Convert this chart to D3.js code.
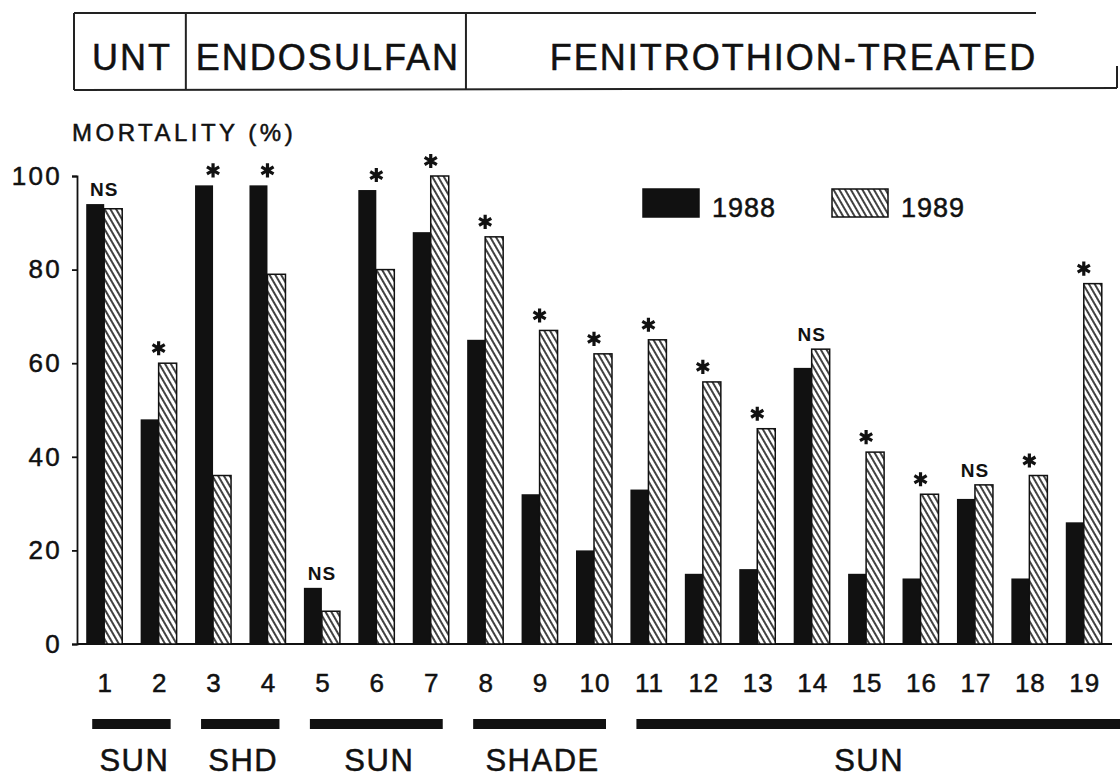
<!DOCTYPE html>
<html>
<head>
<meta charset="utf-8">
<script src="https://cdn.jsdelivr.net/npm/d3@7"></script>
<style>
  body { margin: 0; background: #fff; }
  text { font-family: "Liberation Sans", Arial, sans-serif; fill: #111; stroke: #111; stroke-width: 0.5px; }
</style>
</head>
<body>
<div id="chart"></div>
<script>
var sites = ["1", "2", "3", "4", "5", "6", "7", "8", "9", "10", "11", "12", "13", "14", "15", "16", "17", "18", "19"]
var mort1988 = [94, 48, 98, 98, 12, 97, 88, 65, 32, 20, 33, 15, 16, 59, 15, 14, 31, 14, 26]
var mort1989 = [93, 60, 36, 79, 7, 80, 100, 87, 67, 62, 65, 56, 46, 63, 41, 32, 34, 36, 77]
var signif = ["NS", "*", "*", "*", "NS", "*", "*", "*", "*", "*", "*", "*", "*", "NS", "*", "*", "NS", "*", "*"]
var yTicks = [0, 20, 40, 60, 80, 100]
var years = ["1988", "1989"]

var treatments = ["UNT", "ENDOSULFAN", "FENITROTHION-TREATED"]
var treatFirst = ["1", "3", "8"]
var treatLast = ["2", "7", "19"]

var habitats = ["SUN", "SHD", "SUN", "SHADE", "SUN"]
var habFirst = ["1", "3", "5", "8", "11"]
var habLast = ["2", "4", "7", "10", "19"]

var width = 1120, height = 779
var ink = "#111"

var svg = d3.select("#chart")
  .append("svg")
  .attr("width", width)
  .attr("height", height)

// hatch for 1989
var defs = svg.append("defs")
var pat = defs.append("pattern")
  .attr("id", "hatch")
  .attr("patternUnits", "userSpaceOnUse")
  .attr("width", 5)
  .attr("height", 10)
  .attr("patternTransform", "rotate(-30)")
pat.append("rect").attr("width", 5).attr("height", 10).attr("fill", "#fff")
pat.append("line")
  .attr("x1", 1).attr("x2", 1).attr("y1", 0).attr("y2", 10)
  .attr("stroke", ink).attr("stroke-width", 1.6)

var x = d3.scaleBand().domain(sites).range([77, 1111])
var y = d3.scaleLinear().domain([0, 100]).range([644, 176])
var barW = 18
var cx = d => x(d) + x.bandwidth() / 2

var rows = sites.map((s, i) => ({site: s, a: mort1988[i], b: mort1989[i], sig: signif[i]}))

// header boxes
var head = svg.append("g").attr("stroke", "#222").attr("stroke-width", 2).attr("fill", "none")
var hLeft = x(treatFirst[0]) - 3, hRight = x.range()[1] + 6
var cellX = (d, i) => i == 0 ? hLeft : x(d) + (i - 1) * 8
head.append("line").attr("x1", hLeft).attr("x2", hRight - 81).attr("y1", 13).attr("y2", 13)
head.append("line").attr("x1", hLeft).attr("x2", hRight).attr("y1", 90).attr("y2", 88)
head.append("line").attr("x1", hRight).attr("x2", hRight).attr("y1", 66).attr("y2", 88)
head.selectAll(".div")
  .data(treatFirst)
  .enter()
  .append("line")
  .attr("x1", cellX)
  .attr("x2", cellX)
  .attr("y1", 13).attr("y2", 90)

svg.selectAll(".treat")
  .data(treatments)
  .enter()
  .append("text")
  .attr("x", (d, i) => {
    var a = cellX(treatFirst[i], i)
    var b = i == treatments.length - 1 ? hRight : cellX(treatFirst[i + 1], i + 1)
    return (a + b) / 2 + 2
  })
  .attr("y", 70)
  .attr("text-anchor", "middle")
  .attr("font-size", 36)
  .attr("letter-spacing", 2)
  .text(d => d)

// y axis
svg.append("text")
  .attr("x", 72)
  .attr("y", 141)
  .attr("font-size", 24)
  .attr("letter-spacing", 3.5)
  .text("MORTALITY (%)")

var yAxis = svg.append("g")
  .attr("transform", "translate(77,0)")
  .call(d3.axisLeft(y).tickValues(yTicks).tickSize(5).tickPadding(10))
yAxis.selectAll("path, line").attr("stroke", ink).attr("stroke-width", 1.8)
yAxis.selectAll("text")
  .attr("font-size", 26)
  .attr("letter-spacing", 2.3)
  .attr("fill", ink)
  .attr("font-family", "Liberation Sans, Arial, sans-serif")

// x baseline and labels
svg.append("line")
  .attr("x1", x.range()[0]).attr("x2", x.range()[1] + 1)
  .attr("y1", y(0)).attr("y2", y(0))
  .attr("stroke", ink).attr("stroke-width", 2)

svg.selectAll(".xlab")
  .data(sites)
  .enter()
  .append("text")
  .attr("x", d => cx(d) + 1)
  .attr("y", 692)
  .attr("text-anchor", "middle")
  .attr("font-size", 26)
  .attr("letter-spacing", 1)
  .text(d => d)

// bars
svg.selectAll(".b88")
  .data(rows)
  .enter()
  .append("rect")
  .attr("x", d => cx(d.site) - barW)
  .attr("y", d => y(d.a))
  .attr("width", barW)
  .attr("height", d => y(0) - y(d.a))
  .attr("fill", ink)

svg.selectAll(".b89")
  .data(rows)
  .enter()
  .append("rect")
  .attr("x", d => cx(d.site))
  .attr("y", d => y(d.b))
  .attr("width", barW)
  .attr("height", d => y(0) - y(d.b))
  .attr("fill", "url(#hatch)")
  .attr("stroke", ink)
  .attr("stroke-width", 1.5)

// significance marks
var star = d3.symbol().type(d3.symbolAsterisk).size(140)
svg.selectAll(".star")
  .data(rows.filter(d => d.sig == "*"))
  .enter()
  .append("path")
  .attr("d", star)
  .attr("transform", d => `translate(${cx(d.site)},${y(Math.max(d.a, d.b)) - 15})`)
  .attr("fill", "none")
  .attr("stroke", ink)
  .attr("stroke-width", 3.2)

svg.selectAll(".ns")
  .data(rows.filter(d => d.sig == "NS"))
  .enter()
  .append("text")
  .attr("x", d => cx(d.site))
  .attr("y", d => y(Math.max(d.a, d.b)) - 8)
  .attr("text-anchor", "middle")
  .attr("font-size", 19)
  .attr("font-weight", "bold")
  .attr("letter-spacing", 1)
  .style("stroke-width", "0px")
  .text(d => d.sig)

// legend
var legend = svg.selectAll(".leg")
  .data(years)
  .enter()
  .append("g")
  .attr("transform", (d, i) => `translate(${643 + i * 189},189)`)
legend.append("rect")
  .attr("width", 56)
  .attr("height", 28)
  .attr("fill", (d, i) => i == 0 ? ink : "url(#hatch)")
  .attr("stroke", ink)
  .attr("stroke-width", 1.5)
legend.append("text")
  .attr("x", 69)
  .attr("y", 28)
  .attr("font-size", 27)
  .attr("letter-spacing", 1)
  .text(d => d)

// habitat strips
svg.selectAll(".hab")
  .data(habitats)
  .enter()
  .append("rect")
  .attr("x", (d, i) => cx(habFirst[i]) - 12)
  .attr("y", 719)
  .attr("width", (d, i) => (i == habitats.length - 1 ? width : cx(habLast[i]) + 12) - (cx(habFirst[i]) - 12))
  .attr("height", 10)
  .attr("fill", ink)

svg.selectAll(".habl")
  .data(habitats)
  .enter()
  .append("text")
  .attr("x", (d, i) => (cx(habFirst[i]) + cx(habLast[i])) / 2 + 3)
  .attr("y", 771)
  .attr("text-anchor", "middle")
  .attr("font-size", 31)
  .attr("letter-spacing", 1.5)
  .text(d => d)
</script>
</body>
</html>
